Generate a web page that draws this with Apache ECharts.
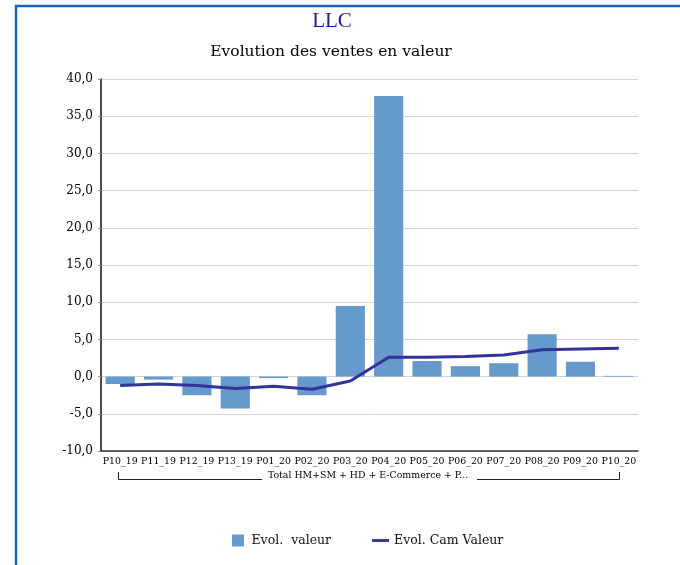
<!DOCTYPE html>
<html>
<head>
<meta charset="utf-8">
<script src="https://cdn.jsdelivr.net/npm/echarts@6/dist/echarts.min.js"></script>
<style>
  html, body { margin: 0; padding: 0; background: #fff; }
  #chart { width: 680px; height: 565px; }
</style>
</head>
<body>
<div id="chart"></div>
<script>
// periods on the x axis
var periods = ['P10_19', 'P11_19', 'P12_19', 'P13_19', 'P01_20', 'P02_20', 'P03_20',
	'P04_20', 'P05_20', 'P06_20', 'P07_20', 'P08_20', 'P09_20', 'P10_20'];
// bars: Evol. valeur
var evolValeur = [-1.0, -0.4, -2.5, -4.3, -0.2, -2.5, 9.5, 37.7, 2.1, 1.4, 1.8, 5.7, 2.0, 0.1];
// line: Evol. Cam Valeur
var evolCam = [-1.2, -1.0, -1.2, -1.6, -1.3, -1.7, -0.6, 2.6, 2.6, 2.7, 2.9, 3.6, 3.7, 3.8];
var groupLabel = 'Total HM+SM + HD + E-Commerce + P...';

var serif = "'DejaVu Serif', serif";

var chart = echarts.init(document.getElementById('chart'));
var option = {
	animation: false,
	grid: { left: 101, right: 42, top: 79, bottom: 114 },
	legend: {
		bottom: 13,
		left: 227,
		itemGap: 41,
		itemWidth: 17,
		itemHeight: 12,
		textStyle: { fontFamily: serif, fontSize: 12.5, color: '#111' },
		data: [
			{ name: 'Evol.  valeur', icon: 'path://M0,0 L10,0 L10,10 L0,10 Z', itemStyle: { color: '#6699cc' } },
			{ name: 'Evol. Cam Valeur', icon: 'path://M0,0 L20,0 L20,3.4 L0,3.4 Z',
				itemStyle: { color: '#333399' } }
		]
	},
	xAxis: {
		type: 'category',
		data: periods,
		axisLine: { onZero: false, lineStyle: { color: '#333', width: 1.5 } },
		axisTick: { show: false },
		axisLabel: { fontFamily: serif, fontSize: 9.4, color: '#000', interval: 0, margin: 6 }
	},
	yAxis: {
		type: 'value',
		min: -10,
		max: 40,
		interval: 5,
		axisLine: { show: true, lineStyle: { color: '#111', width: 1.5 } },
		axisTick: { show: true, length: 3, lineStyle: { color: '#999' } },
		splitLine: { lineStyle: { color: '#d4d4d4', width: 1 } },
		axisLabel: {
			fontFamily: serif, fontSize: 12, color: '#000', margin: 8,
			formatter: function (v) { return v.toFixed(1).replace('.', ','); }
		}
	},
	series: [
		{
			name: 'Evol.  valeur',
			type: 'bar',
			data: evolValeur,
			barCategoryGap: '24%',
			itemStyle: { color: '#6699cc' }
		},
		{
			name: 'Evol. Cam Valeur',
			type: 'line',
			data: evolCam,
			symbol: 'none',
			lineStyle: { color: '#333399', width: 3 },
			itemStyle: { color: '#333399' }
		}
	],
	graphic: [
		// frame around the chart
		{ type: 'polyline', shape: { points: [[16, 565], [16, 6], [680, 6]] },
			style: { stroke: '#1f63b4', lineWidth: 2.5, fill: null } },
		// titles
		{ type: 'text', x: 332, y: 11,
			style: { text: 'LLC', fontFamily: 'Liberation Serif', fontSize: 21, fill: '#1a1a99', textAlign: 'center' } },
		{ type: 'text', x: 331, y: 44,
			style: { text: 'Evolution des ventes en valeur', fontFamily: serif, fontSize: 15.5, fill: '#000', textAlign: 'center' } },
		// group bracket under the axis labels
		{ type: 'polyline', shape: { points: [[118.5, 472], [118.5, 479.5], [262, 479.5]] },
			style: { stroke: '#222', lineWidth: 1, fill: null } },
		{ type: 'polyline', shape: { points: [[477, 479.5], [619.5, 479.5], [619.5, 472]] },
			style: { stroke: '#222', lineWidth: 1, fill: null } },
		{ type: 'text', x: 368, y: 471,
			style: { text: groupLabel, fontFamily: serif, fontSize: 9.4, fill: '#000', textAlign: 'center' } }
	]
};
chart.setOption(option);
</script>
</body>
</html>
